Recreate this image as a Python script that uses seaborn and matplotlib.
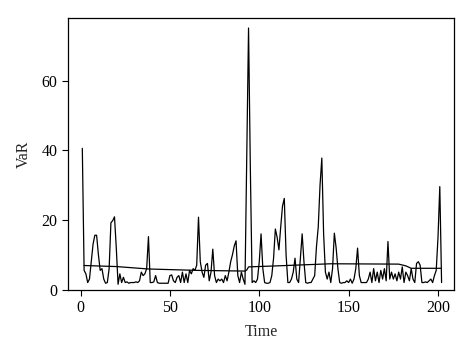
import matplotlib
matplotlib.use("Agg")
import matplotlib.pyplot as plt
import seaborn as sns
import pandas as pd

# spiky VaR series, t = 1..202
var_values = [
    40.6, 5.5, 4.5, 2.0, 3.0, 8.0, 13.0, 15.6, 15.6, 10.0,
    5.5, 6.0, 3.0, 1.8, 2.0, 6.0, 19.2, 19.8, 20.9, 12.0,
    1.5, 4.5, 2.0, 3.5, 2.0, 2.2, 1.8, 2.0, 2.0, 2.0,
    2.2, 2.0, 2.5, 5.0, 4.0, 4.5, 6.0, 15.2, 2.0, 2.0,
    2.2, 4.0, 2.0, 1.8, 1.8, 1.8, 1.8, 1.8, 1.8, 4.0,
    4.2, 2.5, 2.0, 3.5, 4.0, 2.0, 5.0, 2.0, 4.5, 2.0,
    5.5, 4.5, 6.0, 5.5, 7.0, 20.8, 8.0, 5.0, 3.5, 7.0,
    7.5, 2.5, 5.0, 11.6, 4.0, 2.0, 3.0, 2.5, 3.0, 2.0,
    4.0, 2.5, 5.0, 8.0, 10.0, 12.5, 14.0, 4.0, 2.0, 5.0,
    3.0, 1.5, 38.0, 75.2, 35.0, 2.0, 2.5, 2.0, 3.0, 8.0,
    16.0, 6.0, 2.0, 1.8, 1.8, 2.0, 4.0, 9.0, 17.4, 15.0,
    11.4, 18.0, 24.0, 26.2, 10.0, 2.0, 2.0, 3.0, 5.0, 9.0,
    3.0, 2.0, 9.0, 16.0, 8.0, 2.0, 1.8, 2.0, 2.0, 3.0,
    4.0, 12.3, 18.0, 30.0, 37.8, 16.0, 5.0, 3.0, 5.0, 2.0,
    6.0, 16.2, 12.0, 6.0, 2.0, 1.8, 2.0, 2.0, 2.5, 2.0,
    3.0, 1.8, 3.0, 6.0, 11.9, 4.0, 2.0, 2.0, 2.0, 2.0,
    3.0, 5.0, 2.0, 6.0, 2.5, 5.0, 2.0, 5.5, 3.0, 6.0,
    2.5, 13.8, 3.0, 5.0, 3.0, 4.5, 2.5, 5.0, 3.0, 6.5,
    2.0, 5.0, 4.0, 2.5, 6.0, 3.0, 2.0, 7.5, 8.0, 7.0,
    2.0, 2.0, 2.2, 2.0, 2.5, 3.0, 2.0, 4.0, 5.5, 15.0,
    29.6, 2.0,
]
var_time = list(range(1, len(var_values) + 1))

# smoother threshold line, read at its bends
level_time = [2, 20, 38, 65, 92, 93, 94, 110, 130, 140, 178, 182, 185, 202]
level_values = [6.9, 6.6, 5.9, 5.5, 5.3, 5.6, 6.5, 6.8, 7.2, 7.4, 7.3, 6.8, 6.1, 6.1]

sns.set_style("ticks")
plt.rcParams["font.family"] = ["Liberation Serif", "DejaVu Serif"]
plt.rcParams["font.size"] = 11.5

spiky = pd.DataFrame({"Time": var_time, "VaR": var_values})
level = pd.DataFrame({"Time": level_time, "VaR": level_values})

fig = plt.figure(figsize=(4.74, 3.55), dpi=100)
ax = fig.add_axes([0.1435, 0.1845, 0.8145, 0.764])
sns.lineplot(data=spiky, x="Time", y="VaR", color="black", linewidth=0.9, ax=ax)
sns.lineplot(data=level, x="Time", y="VaR", color="black", linewidth=0.9, ax=ax)

ax.set_xlim(-7, 209)
ax.set_ylim(0, 78)
ax.set_xticks([0, 50, 100, 150, 200])
ax.set_yticks([0, 20, 40, 60])
ax.tick_params(labelsize=11.5, length=4, width=0.8, colors="black")
for s in ax.spines.values():
    s.set_linewidth(0.9)
    s.set_color("black")
ax.set_xlabel("Time", fontsize=11.5, labelpad=6)
ax.set_ylabel("VaR", fontsize=11.5, labelpad=7)

fig.savefig("out.png", dpi=100)
